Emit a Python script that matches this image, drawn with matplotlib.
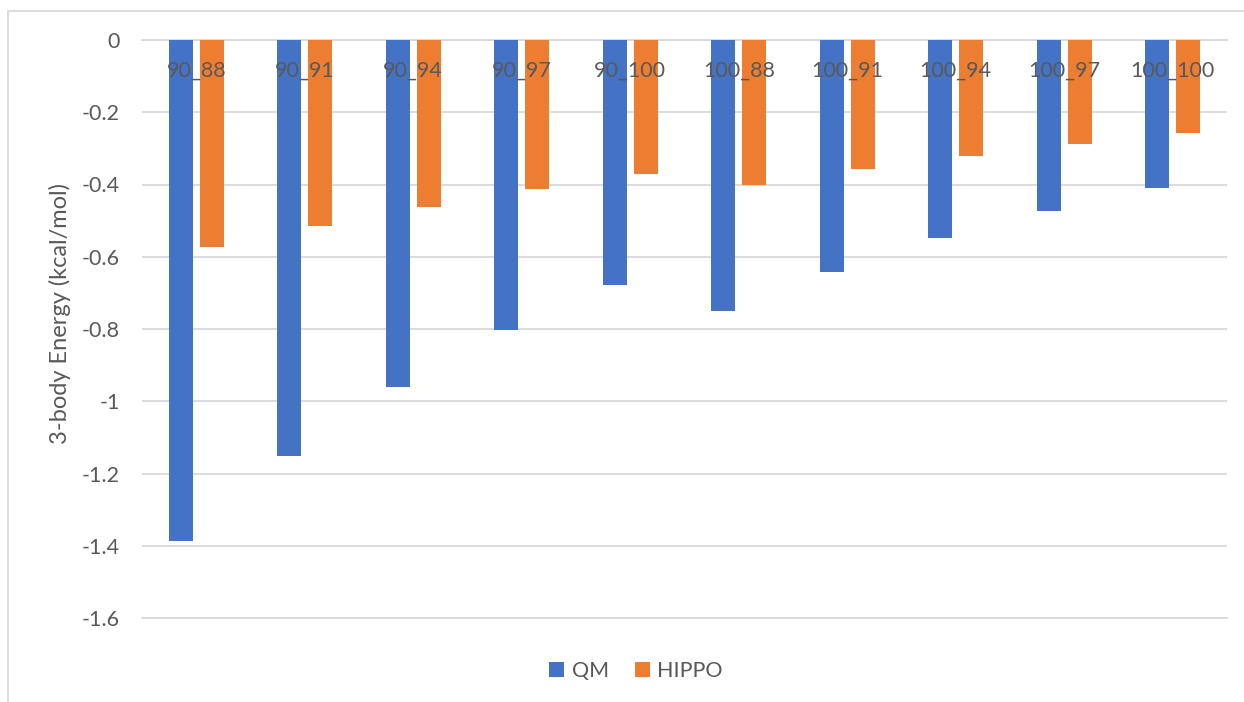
import numpy as np
import matplotlib
matplotlib.use('Agg')
import matplotlib.pyplot as plt
from matplotlib.patches import Rectangle

# data
labels = ['90_88', '90_91', '90_94', '90_97', '90_100',
          '100_88', '100_91', '100_94', '100_97', '100_100']
qm = [-1.387, -1.152, -0.960, -0.802, -0.677,
      -0.750, -0.642, -0.549, -0.473, -0.409]
hippo = [-0.572, -0.514, -0.461, -0.413, -0.370,
         -0.400, -0.358, -0.320, -0.287, -0.257]
yticks = [0, -0.2, -0.4, -0.6, -0.8, -1, -1.2, -1.4, -1.6]
ytick_labels = ['0', '-0.2', '-0.4', '-0.6', '-0.8', '-1', '-1.2', '-1.4', '-1.6']

blue = '#4472C4'
orange = '#ED7D31'
grid_c = '#D9D9D9'
text_c = '#595959'

plt.rcParams['font.family'] = ['Lato', 'DejaVu Sans']

W, H = 1244, 702
fig = plt.figure(figsize=(W / 100, H / 100), dpi=100)
ax = fig.add_axes([142 / W, 1 - 618 / H, (1227 - 142) / W, (618 - 40) / H])

x = np.arange(len(labels))
w = 0.222
off = 0.143
ax.bar(x - off, qm, w, color=blue, label='QM', zorder=2)
ax.bar(x + off, hippo, w, color=orange, label='HIPPO', zorder=2)

ax.set_xlim(-0.5, len(labels) - 0.5)
ax.set_ylim(-1.6, 0)
ax.set_yticks(yticks)
ax.set_yticklabels(ytick_labels)
ax.yaxis.grid(True, color=grid_c, linewidth=1.3)
ax.set_axisbelow(True)

for s in ['left', 'right']:
    ax.spines[s].set_visible(False)
for s in ['top', 'bottom']:
    ax.spines[s].set_color(grid_c)
    ax.spines[s].set_linewidth(1.3)
    ax.spines[s].set_zorder(1)

# category labels sit just under the zero line, drawn over the bars
ax.xaxis.set_ticks_position('top')
ax.set_xticks(x)
ax.set_xticklabels(labels)
ax.tick_params(axis='x', length=0, pad=-29, labelsize=15.5, labelcolor=text_c,
               labelbottom=False, labeltop=True)
ax.tick_params(axis='y', length=0, pad=16, labelsize=15.5, labelcolor=text_c)
ax.xaxis.set_zorder(5)

fig.text(60 / W, 1 - 313 / H, '3-body Energy (kcal/mol)', rotation=90,
         ha='center', va='center', fontsize=17, color=text_c)

fig.legend(loc='center', bbox_to_anchor=(636 / W, 1 - 671 / H), ncol=2,
           frameon=False, fontsize=15.5, labelcolor=text_c,
           handlelength=0.7, handleheight=0.7, handletextpad=0.35,
           columnspacing=1.2)

# chart border, cut off at right and bottom like the reference
fig.add_artist(Rectangle((8 / W, -0.1), 1.2, 1.1 - 11 / H,
                         transform=fig.transFigure, fill=False,
                         edgecolor=grid_c, linewidth=1.3))

fig.savefig('out.png', dpi=100, facecolor='white')
